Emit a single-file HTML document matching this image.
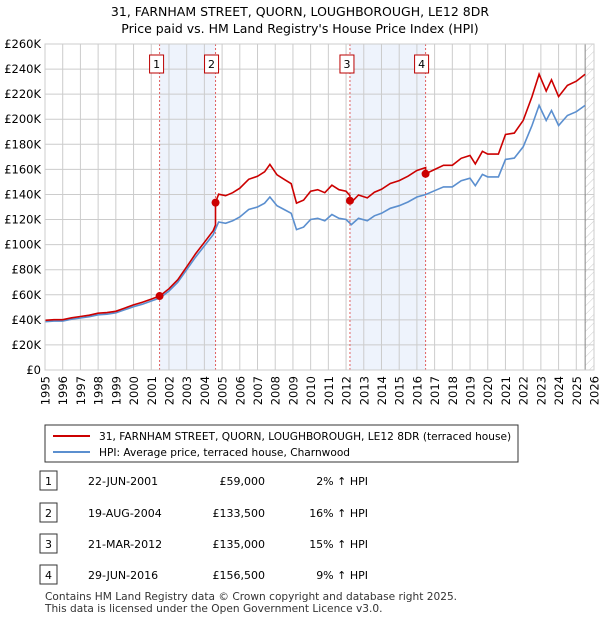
<!DOCTYPE html>
<html><head><meta charset="utf-8"><style>
body{margin:0;background:#fff;font-family:"Liberation Sans","DejaVu Sans",sans-serif;}
svg text{font-family:"DejaVu Sans","Liberation Sans",sans-serif;}
</style></head><body>
<svg id="c" width="600" height="620" xmlns="http://www.w3.org/2000/svg">
<text x="300" y="16" text-anchor="middle" font-size="12.5">31, FARNHAM STREET, QUORN, LOUGHBOROUGH, LE12 8DR</text>
<text x="300" y="33" text-anchor="middle" font-size="12.5">Price paid vs. HM Land Registry's House Price Index (HPI)</text>
<g id="plot"></g>
<g id="legend">
<rect x="45" y="425" width="473" height="37" fill="#fff" stroke="#333" stroke-width="1"/>
<line x1="53" y1="436" x2="90" y2="436" stroke="#cc0000" stroke-width="2"/>
<text x="99" y="440" font-size="10.6">31, FARNHAM STREET, QUORN, LOUGHBOROUGH, LE12 8DR (terraced house)</text>
<line x1="53" y1="452" x2="90" y2="452" stroke="#5b8fcf" stroke-width="2"/>
<text x="99" y="456" font-size="10.6">HPI: Average price, terraced house, Charnwood</text>
</g>
<g id="table" font-size="11"></g>
<text x="45" y="600" font-size="10.6" fill="#333">Contains HM Land Registry data © Crown copyright and database right 2025.</text>
<text x="45" y="612" font-size="10.6" fill="#333">This data is licensed under the Open Government Licence v3.0.</text>
</svg>
<script>
const hpiYears=[1995,1995.5,1996,1996.5,1997,1997.5,1998,1998.5,1999,1999.5,2000,2000.5,2001,2001.5,2002,2002.5,2003,2003.5,2004,2004.5,2004.8,2005.2,2005.6,2006,2006.5,2007,2007.4,2007.7,2008.1,2008.5,2008.9,2009.2,2009.6,2010,2010.4,2010.8,2011.2,2011.6,2012,2012.3,2012.7,2013.2,2013.6,2014,2014.5,2015,2015.5,2016,2016.5,2017,2017.5,2018,2018.5,2019,2019.3,2019.7,2020,2020.6,2021,2021.5,2022,2022.5,2022.9,2023.3,2023.6,2024,2024.5,2025,2025.5];
const hpiValues=[38500,39000,39000,40500,41500,42500,44000,44500,45500,48000,50500,52500,55000,57500,63000,70000,80000,90000,99000,108000,118000,117000,119000,122000,128000,130000,133000,138000,131000,128000,125000,112000,114000,120000,121000,119000,124000,121000,120000,116000,121000,119000,123000,125000,129000,131000,134000,138000,140000,143000,146000,146000,151000,153000,147000,156000,154000,154000,168000,169000,178000,195000,211000,199000,207000,195000,203000,206000,211000];
const saleYears=[2001.47,2004.63,2012.22,2016.49];
const salePrices=[59000,133500,135000,156500];
const saleLabels=["1","2","3","4"];
const saleDates=["22-JUN-2001","19-AUG-2004","21-MAR-2012","29-JUN-2016"];
const salePriceText=["£59,000","£133,500","£135,000","£156,500"];
const saleHpiText=["2% ↑ HPI","16% ↑ HPI","15% ↑ HPI","9% ↑ HPI"];
const yTicks=[0,20000,40000,60000,80000,100000,120000,140000,160000,180000,200000,220000,240000,260000];
const yTickLabels=["£0","£20K","£40K","£60K","£80K","£100K","£120K","£140K","£160K","£180K","£200K","£220K","£240K","£260K"];
const xTicks=[1995,1996,1997,1998,1999,2000,2001,2002,2003,2004,2005,2006,2007,2008,2009,2010,2011,2012,2013,2014,2015,2016,2017,2018,2019,2020,2021,2022,2023,2024,2025,2026];

const X0=45,X1=594,Y0=370,Y1=44;
const xs=v=>X0+(v-1995)/(2026-1995)*(X1-X0);
const ys=v=>Y0-v/260000*(Y0-Y1);
const NS="http://www.w3.org/2000/svg";
const plot=document.getElementById('plot');
function mk(tag,attrs,parent){const e=document.createElementNS(NS,tag);for(const k in attrs)e.setAttribute(k,attrs[k]);(parent||plot).appendChild(e);return e;}
function hpiAt(t){for(let i=1;i<hpiYears.length;i++){if(t<=hpiYears[i]){const f=(t-hpiYears[i-1])/(hpiYears[i]-hpiYears[i-1]);return hpiValues[i-1]+f*(hpiValues[i]-hpiValues[i-1]);}}return hpiValues[hpiValues.length-1];}
for(const [a,b] of [[0,1],[2,3]]){
 const r=mk('rect',{x:xs(saleYears[a]),y:Y1,width:xs(saleYears[b])-xs(saleYears[a]),height:Y0-Y1,fill:'#eef3fc'});
 
 
}
const defs=mk('defs',{});
const pat=mk('pattern',{id:'h',width:6,height:6,patternUnits:'userSpaceOnUse',patternTransform:'rotate(45)'},defs);
mk('line',{x1:0,y1:0,x2:0,y2:6,stroke:'#ccc','stroke-width':1},pat);
const hz=mk('rect',{x:xs(2025.5),y:Y1,width:X1-xs(2025.5),height:Y0-Y1,fill:'url(#h)'});


yTicks.forEach((v,i)=>{
 mk('line',{x1:X0,x2:X1,y1:ys(v),y2:ys(v),stroke:'#ccc','stroke-width':1});
 const t=mk('text',{x:X0-4,y:ys(v)+4,'text-anchor':'end','font-size':11.5});t.textContent=yTickLabels[i];
 
 
});
xTicks.forEach(v=>{
 mk('line',{x1:xs(v),x2:xs(v),y1:Y1,y2:Y0,stroke:'#ccc','stroke-width':1});
 const x=xs(v)+4.5,y=376;
 const t=mk('text',{x:x,y:y,'text-anchor':'end','font-size':11.5,transform:`rotate(-90 ${x} ${y})`});t.textContent=v;
 
 
});
mk('line',{x1:xs(2025.5),x2:xs(2025.5),y1:Y1,y2:Y0,stroke:'#888','stroke-width':1});
saleYears.forEach(v=>mk('line',{x1:xs(v),x2:xs(v),y1:Y1,y2:Y0,stroke:'#e06060','stroke-width':1,'stroke-dasharray':'2,2'}));
let d=hpiYears.map((t,i)=>(i?'L':'M')+xs(t).toFixed(1)+','+ys(hpiValues[i]).toFixed(1)).join('');
const hl=mk('path',{d,fill:'none',stroke:'#5b8fcf','stroke-width':1.6});


const ratios=saleYears.map((t,i)=>salePrices[i]/hpiAt(t));
const pts=[];
hpiYears.forEach((t,i)=>{
 let k=-1;for(let j=0;j<saleYears.length;j++)if(saleYears[j]<=t)k=j;
 const r=k<0?ratios[0]:ratios[k];
 pts.push([t,hpiValues[i]*r]);
});
saleYears.forEach((t,i)=>{pts.push([t-0.001,hpiAt(t)*(i?ratios[i-1]:ratios[0])]);pts.push([t,salePrices[i]]);});
pts.sort((a,b)=>a[0]-b[0]);
d=pts.map((p,i)=>(i?'L':'M')+xs(p[0]).toFixed(1)+','+ys(p[1]).toFixed(1)).join('');
const rl=mk('path',{d,fill:'none',stroke:'#cc0000','stroke-width':1.6});


saleYears.forEach((t,i)=>{
 const c=mk('circle',{cx:xs(t),cy:ys(salePrices[i]),r:4,fill:'#cc0000'});
 
 
 const x=xs(t)-(i%2?11:10);
 mk('rect',{x:x,y:55,width:14,height:18,fill:'#fff',stroke:'#b00','stroke-width':1});
 const tt=mk('text',{x:x+7,y:68,'text-anchor':'middle','font-size':11});tt.textContent=saleLabels[i];
 
 
});
mk('rect',{x:X0,y:Y1,width:X1-X0,height:Y0-Y1,fill:'none',stroke:'#ccc'});
const tb=document.getElementById('table');
const rowY=[482,514,545,576];
saleYears.forEach((t,i)=>{
 const y=rowY[i];
 mk('rect',{x:40,y:y-11,width:17,height:19,fill:'#fff',stroke:'#333'},tb);
 const cells=[[48.5,saleLabels[i],'middle'],[88,saleDates[i],'start'],[265,salePriceText[i],'end'],[368,saleHpiText[i],'end']];
 cells.forEach(c=>{const e=mk('text',{x:c[0],y:y+3,'text-anchor':c[2],'font-size':11},tb);e.textContent=c[1];
  
  });
});
</script>
</body></html>
